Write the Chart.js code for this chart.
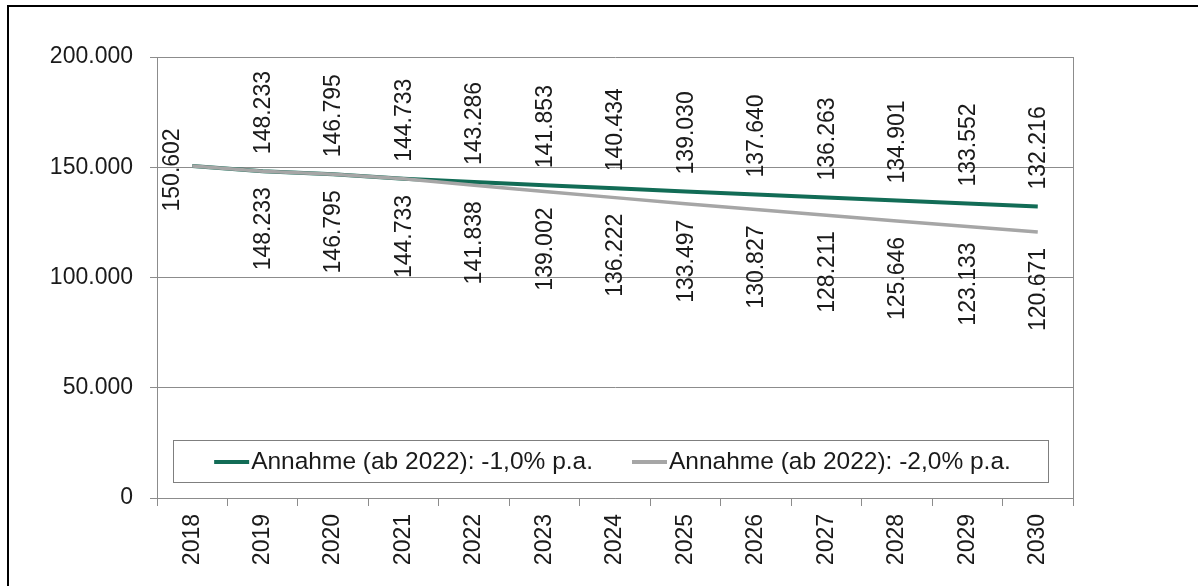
<!DOCTYPE html>
<html>
<head>
<meta charset="utf-8">
<script src="https://cdn.jsdelivr.net/npm/chart.js@4.4.1/dist/chart.umd.min.js"></script>
<style>
  html, body { margin: 0; padding: 0; background: #ffffff; }
  #wrap { width: 1198px; height: 586px; position: relative; }
</style>
</head>
<body>
<div id="wrap"><canvas id="c" width="1198" height="586"></canvas></div>
<script>
const years = ['2018','2019','2020','2021','2022','2023','2024','2025','2026','2027','2028','2029','2030'];
const seriesMinus1 = [150602,148233,146795,144733,143286,141853,140434,139030,137640,136263,134901,133552,132216];
const seriesMinus2 = [150602,148233,146795,144733,141838,139002,136222,133497,130827,128211,125646,123133,120671];
const seriesNames = ['Annahme (ab 2022): -1,0% p.a.', 'Annahme (ab 2022): -2,0% p.a.'];
const yTicks = [0, 50000, 100000, 150000, 200000];

const GREEN = '#126c56';
const GRAY = '#a6a6a6';
const GRID = '#8c8c8c';
const TEXT = '#1a1a1a';
const FONT = '"Liberation Sans", Arial, sans-serif';

function deFormat(v) {
  const s = Math.round(v).toString();
  return s.replace(/\B(?=(\d{3})+(?!\d))/g, '.');
}

const framePlugin = {
  id: 'frame',
  beforeDraw(chart) {
    const ctx = chart.ctx;
    ctx.save();
    ctx.fillStyle = '#ffffff';
    ctx.fillRect(0, 0, chart.width, chart.height);
    ctx.fillStyle = '#000000';
    ctx.fillRect(7, 5, chart.width - 7, 2);
    ctx.fillRect(7, 5, 2, chart.height - 5);
    ctx.restore();
  },
  afterDraw(chart) {
    const ctx = chart.ctx;
    const a = chart.chartArea;
    ctx.save();
    ctx.strokeStyle = GRID;
    ctx.lineWidth = 1;
    ctx.beginPath();
    ctx.moveTo(Math.round(a.right) + 0.5, a.top);
    ctx.lineTo(Math.round(a.right) + 0.5, a.bottom);
    ctx.stroke();
    ctx.restore();
  }
};

const labelPlugin = {
  id: 'valueLabels',
  afterDatasetsDraw(chart) {
    const ctx = chart.ctx;
    ctx.save();
    ctx.font = '23px ' + FONT;
    ctx.fillStyle = TEXT;
    ctx.textBaseline = 'middle';
    chart.data.datasets.forEach((ds, di) => {
      const meta = chart.getDatasetMeta(di);
      meta.data.forEach((pt, i) => {
        const txt = deFormat(ds.data[i]);
        if (i === 0) {
          if (di !== 0) return;
          ctx.save();
          ctx.translate(pt.x - 20, pt.y + 4);
          ctx.rotate(-Math.PI / 2);
          ctx.textAlign = 'center';
          ctx.fillText(txt, 0, 0);
          ctx.restore();
          return;
        }
        ctx.save();
        if (di === 0) {
          ctx.translate(pt.x + 1, pt.y - 17);
          ctx.rotate(-Math.PI / 2);
          ctx.textAlign = 'left';
        } else {
          ctx.translate(pt.x + 1, pt.y + 16);
          ctx.rotate(-Math.PI / 2);
          ctx.textAlign = 'right';
        }
        ctx.fillText(txt, 0, 0);
        ctx.restore();
      });
    });
    ctx.restore();
  }
};

const legendPlugin = {
  id: 'boxLegend',
  afterDraw(chart) {
    const ctx = chart.ctx;
    const a = chart.chartArea;
    const left = a.left + 16, right = a.right - 25;
    const top = a.top + 383, bottom = a.top + 425;
    ctx.save();
    ctx.fillStyle = '#ffffff';
    ctx.fillRect(left, top, right - left, bottom - top);
    ctx.strokeStyle = '#7f7f7f';
    ctx.lineWidth = 1;
    ctx.strokeRect(Math.round(left) + 0.5, Math.round(top) + 0.5, Math.round(right - left), Math.round(bottom - top));
    ctx.font = '24.5px ' + FONT;
    const lineLen = 35, lineGap = 2, itemGap = 39;
    const items = chart.data.datasets.map(ds => ({ label: ds.label, color: ds.borderColor, w: ctx.measureText(ds.label).width }));
    let total = 0;
    items.forEach((it, k) => { total += lineLen + lineGap + it.w + (k ? itemGap : 0); });
    let x = (left + right) / 2 - total / 2 + 2;
    const cy = (top + bottom) / 2 + 1;
    items.forEach((it, k) => {
      if (k) x += itemGap;
      ctx.strokeStyle = it.color;
      ctx.lineWidth = 4;
      ctx.beginPath();
      ctx.moveTo(x, cy);
      ctx.lineTo(x + lineLen, cy);
      ctx.stroke();
      x += lineLen + lineGap;
      ctx.fillStyle = TEXT;
      ctx.textAlign = 'left';
      ctx.textBaseline = 'middle';
      ctx.fillText(it.label, x, cy);
      x += it.w;
    });
    ctx.restore();
  }
};

new Chart(document.getElementById('c'), {
  type: 'line',
  data: {
    labels: years,
    datasets: [
      { label: seriesNames[0], data: seriesMinus1, borderColor: GREEN, backgroundColor: GREEN, borderWidth: 4, pointRadius: 0, tension: 0, fill: false, order: 1 },
      { label: seriesNames[1], data: seriesMinus2, borderColor: GRAY, backgroundColor: GRAY, borderWidth: 3.5, pointRadius: 0, tension: 0, fill: false, order: 0 }
    ]
  },
  options: {
    responsive: false,
    animation: false,
    devicePixelRatio: 1,
    layout: { padding: { top: 57, right: 125, bottom: 0, left: 0 } },
    plugins: { legend: { display: false }, tooltip: { enabled: false } },
    scales: {
      x: {
        type: 'category',
        offset: true,
        grid: { offset: true, drawOnChartArea: false, drawTicks: true, tickLength: 8, color: GRID },
        border: { display: true, color: GRID, width: 1 },
        ticks: { minRotation: 90, maxRotation: 90, padding: 8, color: TEXT, font: { family: FONT, size: 23 } },
        afterFit(s) { s.height = 88; }
      },
      y: {
        min: 0, max: 200000,
        afterBuildTicks(s) { s.ticks = yTicks.map(v => ({ value: v })); },
        grid: { color: GRID, drawTicks: true, tickLength: 7 },
        border: { display: true, color: GRID, width: 1 },
        ticks: { padding: 17, color: TEXT, font: { family: FONT, size: 23 }, callback: v => deFormat(v) },
        afterFit(s) { s.width = 157; }
      }
    }
  },
  plugins: [framePlugin, labelPlugin, legendPlugin]
});
</script>
</body>
</html>
